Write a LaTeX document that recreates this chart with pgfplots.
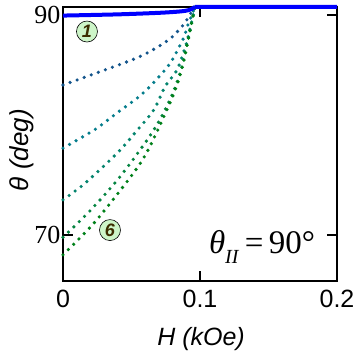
\documentclass[border=0pt]{standalone}
\usepackage{fontspec}
\setmainfont{Liberation Serif}
\setsansfont{Liberation Sans}
\usepackage{pgfplots}
\pgfplotsset{compat=1.18}
\definecolor{cone}{RGB}{0,0,255}
\definecolor{ctwo}{RGB}{20,85,140}
\definecolor{cthree}{RGB}{5,125,140}
\definecolor{cfour}{RGB}{5,132,110}
\definecolor{cfive}{RGB}{5,132,65}
\definecolor{csix}{RGB}{0,128,25}
\definecolor{numc}{RGB}{60,45,0}
\definecolor{circfill}{RGB}{205,245,200}
\begin{document}
\begin{tikzpicture}
\begin{axis}[
  name=ax, at={(0,0)}, anchor=south west,
  scale only axis, width=274bp, height=274bp,
  xmin=0, xmax=0.2, ymin=65.82, ymax=90.73,
  xtick={0,0.1,0.2}, xticklabels={0,0.1,0.2},
  ytick={70,90}, yticklabels={70,90},
  tick align=inside, major tick length=10bp,
  axis line style={line width=2.5bp},
  every tick/.style={black, line width=2.5bp},
  xticklabel style={font=\fontsize{25bp}{28bp}\selectfont\sffamily, anchor=north, yshift=-6bp},
  yticklabel style={font=\fontsize{26bp}{28bp}\selectfont\rmfamily, anchor=east, xshift=1bp},
  xlabel={H (kOe)},
  xlabel style={font=\fontsize{25bp}{28bp}\selectfont\sffamily\itshape, at={(axis description cs:0.504,-0.21)}, anchor=center},
  ylabel={θ (deg)},
  ylabel style={font=\fontsize{26bp}{28bp}\selectfont\sffamily\itshape, at={(axis description cs:-0.15,0.478)}, anchor=center},
  clip=false,
  dotted curve/.style={line width=3.6bp, line cap=round, dash pattern=on 0bp off 7.5bp, smooth},
]
% curve 2
\addplot[dotted curve, ctwo] coordinates {
 (0,83.64) (0.0501,85.91) (0.0679,87.0) (0.0796,88.0) (0.0883,89.18) (0.092,89.9) (0.0963,90.73)};
% curve 3
\addplot[dotted curve, cthree] coordinates {
 (0,77.9) (0.0234,79.6) (0.0394,81.1) (0.0547,82.5) (0.065,83.7) (0.0781,85.6) (0.0876,87.8) (0.0912,89.1) (0.0963,90.73)};
% curve 4
\addplot[dotted curve, cfour] coordinates {
 (0,73.2) (0.016,74.7) (0.040,77.5) (0.054,79.5) (0.0664,81.4) (0.0745,83.5) (0.0832,85.0) (0.0898,87.3) (0.0934,89.1) (0.0963,90.73)};
% curve 5
\addplot[dotted curve, cfive] coordinates {
 (0,69.8) (0.0197,72.2) (0.0416,75.3) (0.065,79.3) (0.0781,82.3) (0.0861,85.0) (0.0912,87.7) (0.0942,89.5) (0.0963,90.73)};
% curve 6
\addplot[dotted curve, csix] coordinates {
 (0,68.2) (0.0234,71.2) (0.0518,75.7) (0.0628,77.9) (0.0759,81.4) (0.0825,83.4) (0.0876,85.5) (0.0927,88.6) (0.0963,90.73)};
% curve 1
\addplot[cone, line width=4bp, smooth] coordinates {
 (0,89.95) (0.04,90.06) (0.07,90.2) (0.085,90.32) (0.092,90.45) (0.0963,90.73)};
\addplot[cone, line width=4bp] coordinates {(0.0963,90.73) (0.2,90.75)};
\node[circle, draw=black, line width=0.6bp, fill=circfill, minimum size=21bp, inner sep=0pt,
  font=\fontsize{18bp}{18bp}\selectfont\sffamily\bfseries\itshape, text=numc] at (axis cs:0.0175,88.5) {1};
\node[circle, draw=black, line width=0.6bp, fill=circfill, minimum size=21bp, inner sep=0pt,
  font=\fontsize{18bp}{18bp}\selectfont\sffamily\bfseries\itshape, text=numc] at (axis cs:0.0343,70.45) {6};
\node[font=\fontsize{33bp}{35bp}\selectfont\rmfamily] at (axis cs:0.1453,68.9)
  {\textit{θ}\raisebox{-0.3em}{\fontsize{20bp}{20bp}\selectfont\textit{II}}\,=\,90°};
\end{axis}
\pgfresetboundingbox
\path[use as bounding box] (-63bp,-73bp) rectangle (297bp,281bp);
\end{tikzpicture}
\end{document}
